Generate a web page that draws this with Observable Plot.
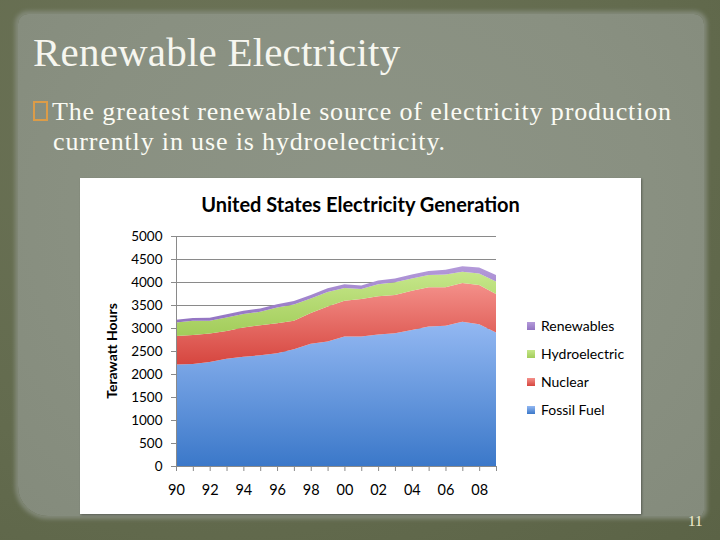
<!DOCTYPE html>
<html>
<head>
<meta charset="utf-8">
<script src="https://cdn.jsdelivr.net/npm/d3@7"></script>
<script src="https://cdn.jsdelivr.net/npm/@observablehq/plot@0.6"></script>
<style>
  html, body { margin: 0; padding: 0; }
  body { width: 720px; height: 540px; position: relative; overflow: hidden;
    background: radial-gradient(ellipse at 30% 20%, #6c7357 0%, #636b4e 60%, #5b6346 100%); }
  #panel { position: absolute; left: 18px; top: 14px; width: 686px; height: 502px;
    background: radial-gradient(ellipse at 50% 40%, #8d9486 0%, #899081 60%, #848b7c 100%);
    border-radius: 10px 10px 6px 30px; box-shadow: 0 0 4px 3px #838a7a; }
  #title { position: absolute; left: 33px; top: 28px; font-family: "Liberation Serif", serif;
    font-size: 41px; color: #f6f6ef; white-space: nowrap; letter-spacing: 0.2px; }
  .bullet { position: absolute; font-family: "Liberation Serif", serif; font-size: 26px;
    color: #fbfbf4; white-space: nowrap; letter-spacing: 0.85px; }
  #b1 { left: 33px; top: 97px; }
  #b2 { left: 53px; top: 127px; }
  #b1 .mark { display: inline-block; width: 11px; height: 16px; border: 2px solid #dc9c48;
    margin-right: 4px; vertical-align: -1px; }
  #box { position: absolute; left: 80px; top: 178px; width: 561px; height: 336px; background: #fff;
    box-shadow: 1px 1px 2px rgba(0,0,0,0.35); }
  #ctitle { position: absolute; left: 0; width: 561px; top: 17px; text-align: center;
    font-family: Lato, sans-serif; font-weight: bold; font-size: 20px; line-height: 18px; color: #000; }
  #ylab { position: absolute; left: 31px; top: 173px; transform: translate(-50%, -50%) rotate(-90deg);
    font-family: Lato, sans-serif; font-weight: bold; font-size: 14px; color: #000; white-space: nowrap; }
  #legend { position: absolute; left: 447px; top: 139px; font-family: Lato, sans-serif; font-size: 14px; color: #000; }
  #legend div { height: 28px; line-height: 18px; white-space: nowrap; }
  #legend span.sw { display: inline-block; width: 8px; height: 8px; margin-right: 6px; vertical-align: 1px; }
  #plot { position: absolute; left: 0; top: 0; }
  #page { position: absolute; left: 688px; top: 513px; font-family: "Liberation Serif", serif; font-size: 15px; color: #f3f0d2; }
</style>
</head>
<body>
<div id="panel"></div>
<div id="title">Renewable Electricity</div>
<div class="bullet" id="b1"><span class="mark"></span>The greatest renewable source of electricity production</div>
<div class="bullet" id="b2">currently in use is hydroelectricity.</div>
<div id="box">
  <div id="plot"></div>
  <div id="ctitle">United States Electricity Generation</div>
  <div id="ylab">Terawatt Hours</div>
  <div id="legend"></div>
</div>
<div id="page">11</div>
<script>
const years = [1990,1991,1992,1993,1994,1995,1996,1997,1998,1999,2000,2001,2002,2003,2004,2005,2006,2007,2008,2009];
const fossil = [2208,2216,2259,2332,2376,2405,2449,2536,2660,2704,2813,2813,2857,2886,2959,3032,3047,3134,3083,2901];
const nuclear = [620,634,620,605,634,656,656,620,664,765,780,820,831,831,853,853,838,846,853,838];
const hydro = [292,306,277,292,292,292,343,356,320,315,277,217,262,275,262,265,280,245,250,270];
const renewables = [60,62,68,72,72,72,70,73,75,78,80,75,85,85,87,90,100,115,130,145];
const seriesNames = ["Fossil Fuel","Nuclear","Hydroelectric","Renewables"];
const yTicks = [0,500,1000,1500,2000,2500,3000,3500,4000,4500,5000];

const gradIds = ["gFossil","gNuclear","gHydro","gRenew"];
const gradStops = [["#93b8f2","#3b78c9"],["#f4908a","#d6463f"],["#c6e78a","#a2cc5a"],["#b49ada","#9274c2"]];

const values = [fossil, nuclear, hydro, renewables];
const data = [];
seriesNames.forEach((s, i) => years.forEach((yr, j) => data.push({year: yr, series: s, value: values[i][j]})));

const plot = Plot.plot({
  width: 561, height: 336,
  marginLeft: 96, marginRight: 145, marginTop: 58, marginBottom: 48,
  style: {fontFamily: "Lato, sans-serif", fontSize: "13.5px", color: "#000", background: "transparent"},
  x: {domain: [1990, 2009]},
  y: {domain: [0, 5000]},
  color: {domain: seriesNames, range: gradIds.map(d => `url(#${d})`)},
  marks: [
    Plot.ruleY(yTicks.filter(d => d > 0), {stroke: "#8a8a8a", strokeWidth: 1}),
    Plot.areaY(data, {x: "year", y: "value", z: "series", fill: "series", order: seriesNames, curve: "linear"}),
    Plot.ruleX([1990], {stroke: "#8a8a8a"}),
    Plot.ruleY([0], {stroke: "#8a8a8a"}),
    Plot.axisY({ticks: yTicks, tickSize: 5, tickPadding: 9, label: null, stroke: "#8a8a8a", tickFormat: d => String(d)}),
    Plot.axisX({ticks: years, tickSize: 5, tickPadding: 13, label: null, stroke: "#8a8a8a", fontSize: 14.5,
      tickFormat: d => d % 2 === 0 ? String(d % 100).padStart(2, "0") : ""})
  ]
});
const ns = "http://www.w3.org/2000/svg";
const defs = document.createElementNS(ns, "defs");
gradIds.forEach((id, i) => {
  const g = document.createElementNS(ns, "linearGradient");
  g.setAttribute("id", id); g.setAttribute("x1", 0); g.setAttribute("y1", 0); g.setAttribute("x2", 0); g.setAttribute("y2", 1);
  gradStops[i].forEach((c, k) => {
    const s = document.createElementNS(ns, "stop");
    s.setAttribute("offset", k === 0 ? "0" : "1"); s.setAttribute("stop-color", c);
    g.appendChild(s);
  });
  defs.appendChild(g);
});
plot.insertBefore(defs, plot.firstChild);
document.getElementById("plot").appendChild(plot);

const legend = document.getElementById("legend");
[3,2,1,0].forEach(i => {
  const d = document.createElement("div");
  d.innerHTML = `<span class="sw" style="background:linear-gradient(${gradStops[i][0]},${gradStops[i][1]})"></span>${seriesNames[i]}`;
  legend.appendChild(d);
});
</script>
</body>
</html>
